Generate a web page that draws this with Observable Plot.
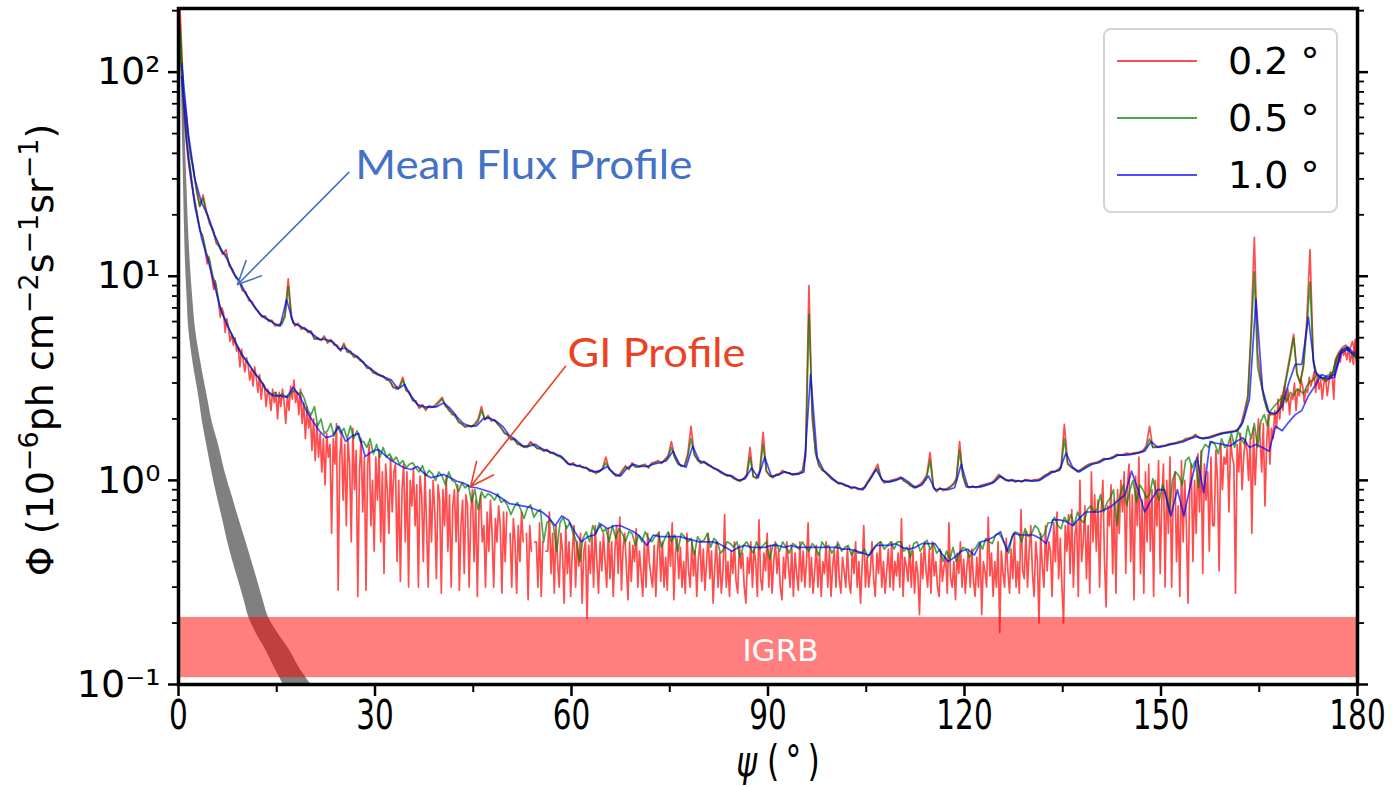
<!DOCTYPE html>
<html><head><meta charset="utf-8">
<script src="https://cdn.jsdelivr.net/npm/d3@7"></script>
<script src="https://cdn.jsdelivr.net/npm/@observablehq/plot@0.6"></script>
<style>
html,body{margin:0;padding:0;background:#fff;}
#wrap{position:relative;width:1400px;height:787px;}
#legend{position:absolute;left:1103px;top:28px;width:231px;height:181px;border:2px solid #d4d4d4;border-radius:8px;background:rgba(255,255,255,0.85);font-family:"DejaVu Sans";font-size:38px;color:#000;}
.sw{position:absolute;left:12px;width:80px;height:0;border-top:2.5px solid;}
.lab{position:absolute;left:123px;height:44px;line-height:44px;white-space:nowrap;}
</style>
</head><body>
<div id="wrap"><div id="legend"></div></div>
<script>
// ---------------- data ----------------
const resolutions = ["0.2", "0.5", "1.0"];
const resColors = ["#ff0000", "#008000", "#0000ff"];

// Mean flux profile, 1.0 deg bins
const meanBlue = [110,50,30,23,19.8,16,13.6,12,10.3,9.2,
8.0,7.2,6.5,6.2,5.9,5.7,7.7,5.9,5.7,5.5,
5.2,4.9,4.9,4.8,4.4,4.45,4.2,4.0,3.7,3.5,
3.3,3.2,3.1,2.8,2.95,2.6,2.35,2.3,2.28,2.3,
2.4,2.25,2.05,1.9,1.84,1.85,2.0,2.02,1.95,1.84,
1.66,1.58,1.48,1.47,1.5,1.43,1.39,1.35,1.31,1.2,
1.19,1.17,1.14,1.1,1.12,1.17,1.08,1.05,1.15,1.2,
1.17,1.17,1.2,1.22,1.25,1.39,1.2,1.16,1.47,1.25,
1.22,1.16,1.12,1.07,1.05,1.0,1.02,1.15,1.03,1.3,
1.05,1.06,1.1,1.08,1.07,1.1,3.3,1.3,1.12,1.05,
0.98,0.96,0.93,0.92,0.9,1.0,1.13,1.0,0.98,1.0,
1.03,0.98,0.92,0.95,1.05,0.9,0.91,0.9,0.92,1.2,
0.93,0.93,0.93,0.95,0.98,1.05,1.0,1.0,0.99,1.0,
0.99,1.0,1.05,1.1,1.12,1.36,1.16,1.1,1.15,1.2,
1.22,1.27,1.28,1.33,1.33,1.34,1.36,1.39,1.55,1.45,
1.47,1.5,1.52,1.55,1.6,1.64,1.6,1.62,1.66,1.7,
1.72,1.74,1.92,2.5,7.7,2.8,2.15,2.12,2.3,3.0,
3.7,3.7,6.3,3.4,3.2,3.15,3.2,4.2,4.4,4.1];

// GI profile, 1.0 deg bins
const giBlue = [95,38,22,15.5,12,9,6.8,5.7,4.9,4.2,
3.8,3.4,3.1,2.75,2.6,2.6,2.55,2.86,2.6,2.2,
1.95,1.75,1.62,1.65,1.84,1.55,1.65,1.7,1.31,1.38,
1.42,1.33,1.25,1.2,1.15,1.13,1.17,1.08,1.03,1.05,
1.07,1.03,0.99,0.97,0.93,0.92,0.9,0.88,0.85,0.81,
0.77,0.76,0.75,0.74,0.72,0.7,0.66,0.6,0.67,0.64,
0.56,0.5,0.53,0.54,0.61,0.58,0.6,0.6,0.58,0.56,
0.53,0.48,0.54,0.53,0.53,0.53,0.53,0.52,0.51,0.5,
0.5,0.5,0.49,0.47,0.45,0.47,0.48,0.47,0.47,0.47,
0.48,0.48,0.47,0.48,0.47,0.47,0.47,0.47,0.47,0.47,
0.47,0.46,0.46,0.45,0.44,0.43,0.48,0.48,0.48,0.49,
0.47,0.46,0.47,0.49,0.49,0.49,0.44,0.40,0.42,0.45,
0.46,0.43,0.5,0.51,0.53,0.56,0.45,0.55,0.54,0.54,
0.54,0.52,0.49,0.64,0.64,0.63,0.6,0.65,0.7,0.7,
0.7,0.72,0.75,0.8,0.85,1.11,0.9,0.7,0.8,0.9,
0.9,0.67,0.9,0.67,0.95,1.3,0.87,1.55,1.52,1.5,
1.47,1.55,1.62,1.45,1.5,1.45,1.39,1.84,1.75,1.93,
2.1,2.2,2.6,2.9,3.3,3.2,3.3,4.3,4.5,4.2];

// Mean flux profile, 0.5 deg bins
const meanGreen = [170,75,55,42,33,27,22,24,20.5,18.5,
16.5,15,13.8,13,12.8,11.5,10.5,10,9.4,8.7,
8.2,7.8,7.3,7.0,6.6,6.4,6.2,6.1,6.0,5.8,
5.7,5.8,6.3,8.9,6.2,5.8,5.8,5.6,5.5,5.4,
5.3,5.0,4.9,4.9,5.0,4.8,4.8,4.7,4.5,4.35,
4.6,4.3,4.2,4.1,4.0,3.9,3.75,3.6,3.5,3.4,
3.3,3.3,3.2,3.15,3.05,2.9,2.8,2.85,3.1,2.8,
2.65,2.5,2.4,2.3,2.3,2.25,2.3,2.3,2.3,2.4,
2.5,2.35,2.2,2.15,2.05,1.95,1.88,1.84,1.84,1.85,
1.86,1.95,2.2,2.0,2.05,1.98,1.96,1.9,1.8,1.72,
1.66,1.6,1.58,1.52,1.48,1.46,1.45,1.52,1.48,1.44,
1.42,1.4,1.4,1.37,1.35,1.33,1.3,1.28,1.22,1.2,
1.2,1.18,1.17,1.16,1.15,1.12,1.1,1.1,1.1,1.14,
1.22,1.14,1.09,1.06,1.05,1.1,1.16,1.14,1.2,1.17,
1.16,1.18,1.18,1.16,1.2,1.22,1.23,1.22,1.25,1.3,
1.45,1.3,1.2,1.18,1.17,1.3,1.6,1.35,1.25,1.22,
1.22,1.2,1.17,1.15,1.12,1.1,1.07,1.06,1.05,1.03,
1.0,1.0,1.01,1.05,1.3,1.05,1.02,1.1,1.5,1.12,
1.05,1.04,1.06,1.07,1.1,1.1,1.08,1.07,1.07,1.08,
1.1,1.3,6.5,2.2,1.35,1.2,1.12,1.1,1.05,1.02,
0.99,0.97,0.96,0.95,0.93,0.92,0.92,0.91,0.9,0.92,
0.98,1.03,1.1,1.15,1.02,0.98,0.98,0.99,1.0,1.01,
1.03,1.0,0.97,0.95,0.92,0.93,0.95,0.98,1.05,1.25,
0.92,0.89,0.91,0.9,0.9,0.92,0.95,1.0,1.4,1.05,
0.93,0.93,0.93,0.93,0.93,0.94,0.95,0.96,0.97,1.0,
1.05,1.03,1.0,1.0,1.0,0.99,0.99,0.99,1.0,1.0,
0.99,1.0,1.0,1.02,1.05,1.07,1.1,1.1,1.12,1.15,
1.6,1.2,1.16,1.14,1.1,1.12,1.15,1.18,1.2,1.21,
1.22,1.24,1.27,1.27,1.28,1.3,1.33,1.33,1.33,1.34,
1.34,1.35,1.36,1.37,1.39,1.45,1.6,1.45,1.45,1.46,
1.47,1.48,1.5,1.51,1.52,1.54,1.55,1.58,1.6,1.62,
1.66,1.62,1.6,1.61,1.62,1.64,1.66,1.68,1.7,1.71,
1.72,1.73,1.74,1.76,1.85,2.1,2.5,5.0,10.5,3.6,
3.0,2.5,2.2,2.12,2.12,2.15,2.3,2.7,3.3,4.0,
5.0,3.4,3.0,3.6,5.5,9.4,3.8,3.3,3.2,3.15,
3.1,3.15,3.3,3.9,4.2,4.3,4.4,4.3,4.1,4.0];

// GI profile, 0.5 deg bins
const giGreen = [150,70,45,35,26,21,17,15.5,13,12,
10,9,7.2,6.5,6.0,5.5,5.1,4.7,4.4,4.1,
3.9,3.7,3.5,3.3,3.2,3.0,2.8,2.7,2.6,2.7,
2.55,2.65,2.6,2.55,2.7,2.75,2.65,2.7,2.5,2.2,
2.1,2.3,1.85,2.0,1.7,1.75,1.9,1.65,1.85,1.7,
1.8,1.6,1.85,1.6,1.75,1.55,1.55,1.45,1.6,1.35,
1.5,1.3,1.45,1.3,1.35,1.25,1.3,1.2,1.25,1.15,
1.2,1.22,1.15,1.1,1.18,1.05,1.12,1.08,1.0,1.1,
1.05,0.95,1.1,1.0,0.98,0.88,0.97,0.92,0.95,0.78,
0.9,0.72,0.88,0.82,0.86,0.84,0.8,0.86,0.78,0.8,
0.75,0.68,0.74,0.78,0.72,0.65,0.73,0.76,0.66,0.7,
0.72,0.5,0.62,0.64,0.6,0.45,0.62,0.66,0.58,0.62,
0.55,0.5,0.4,0.52,0.56,0.5,0.6,0.55,0.62,0.56,
0.58,0.5,0.6,0.52,0.58,0.55,0.5,0.56,0.55,0.48,
0.54,0.5,0.56,0.52,0.5,0.53,0.55,0.47,0.52,0.56,
0.5,0.54,0.45,0.55,0.53,0.5,0.52,0.43,0.53,0.5,
0.51,0.55,0.47,0.52,0.5,0.44,0.46,0.5,0.49,0.47,
0.5,0.42,0.48,0.5,0.47,0.44,0.5,0.46,0.48,0.5,
0.41,0.48,0.49,0.45,0.5,0.47,0.44,0.49,0.48,0.46,
0.5,0.47,0.45,0.49,0.47,0.43,0.5,0.47,0.48,0.44,
0.47,0.49,0.45,0.47,0.48,0.43,0.46,0.44,0.44,0.46,
0.42,0.45,0.47,0.49,0.5,0.46,0.48,0.5,0.46,0.5,
0.5,0.45,0.47,0.42,0.49,0.5,0.45,0.48,0.51,0.46,
0.49,0.44,0.46,0.4,0.45,0.41,0.47,0.4,0.44,0.47,
0.46,0.42,0.45,0.47,0.5,0.46,0.52,0.5,0.49,0.54,
0.55,0.52,0.48,0.44,0.53,0.56,0.55,0.5,0.58,0.53,
0.55,0.6,0.58,0.52,0.55,0.62,0.62,0.66,0.6,0.58,
0.66,0.62,0.68,0.6,0.7,0.64,0.62,0.72,0.75,0.7,
0.72,0.85,0.7,0.78,0.82,0.9,0.6,0.85,0.95,0.75,
0.9,1.0,0.78,0.95,0.9,0.82,0.85,1.02,0.88,0.8,
0.95,0.85,0.7,1.0,1.1,1.05,0.95,1.25,1.3,1.15,
1.25,0.92,1.4,1.5,1.45,1.55,1.5,1.35,1.6,1.45,
1.5,1.7,1.45,1.75,1.6,1.5,1.85,1.6,1.9,1.45,
1.95,2.1,1.85,2.2,2.3,2.4,2.5,2.55,2.45,2.7,
2.6,2.8,2.75,2.65,2.9,3.05,3.1,3.3,3.2,3.15,
3.25,3.3,3.4,3.9,4.2,4.4,4.5,4.3,4.2,4.1];

// Mean flux profile, 0.2 deg resolution (read at 0.5 deg spacing)
const meanRed = [200,80,60,40,34,26,22,25,21,18,
17,14.5,14,12.8,13.5,11.2,10.8,9.8,9.6,8.5,
8.4,7.6,7.5,6.9,6.7,6.3,6.4,6.0,6.1,5.7,
5.8,5.9,6.5,9.7,6.4,5.7,5.9,5.5,5.6,5.3,
5.4,4.9,5.0,4.85,5.1,4.7,4.9,4.6,4.6,4.3,
4.7,4.25,4.3,4.0,4.05,3.85,3.8,3.55,3.55,3.35,
3.35,3.25,3.25,3.1,3.1,2.85,2.85,2.9,3.2,2.75,
2.7,2.45,2.45,2.25,2.35,2.2,2.32,2.28,2.35,2.45,
2.55,2.3,2.25,2.1,2.1,1.92,1.9,1.82,1.86,1.83,
1.9,2.0,2.3,1.98,2.08,1.95,1.98,1.88,1.82,1.7,
1.68,1.58,1.6,1.5,1.5,1.45,1.47,1.55,1.5,1.43,
1.44,1.39,1.42,1.36,1.37,1.32,1.32,1.27,1.24,1.19,
1.22,1.17,1.19,1.15,1.16,1.11,1.12,1.08,1.11,1.15,
1.3,1.13,1.1,1.05,1.06,1.12,1.18,1.13,1.22,1.16,
1.17,1.19,1.2,1.15,1.22,1.23,1.25,1.21,1.27,1.32,
1.55,1.3,1.22,1.17,1.18,1.35,1.84,1.33,1.27,1.21,
1.24,1.19,1.18,1.14,1.13,1.09,1.08,1.05,1.06,1.02,
1.01,0.99,1.02,1.07,1.45,1.04,1.03,1.12,1.72,1.1,
1.06,1.03,1.07,1.08,1.12,1.09,1.09,1.06,1.08,1.09,
1.12,1.4,9.0,2.0,1.4,1.18,1.13,1.09,1.06,1.01,
1.0,0.96,0.97,0.94,0.94,0.91,0.93,0.9,0.91,0.93,
0.99,1.05,1.12,1.2,1.03,0.97,0.99,1.0,1.01,1.02,
1.04,0.99,0.98,0.94,0.93,0.94,0.96,1.0,1.07,1.37,
0.93,0.88,0.92,0.89,0.91,0.93,0.96,1.02,1.55,1.05,
0.94,0.92,0.94,0.92,0.94,0.95,0.96,0.97,0.98,1.02,
1.07,1.03,1.01,0.99,1.01,0.98,1.0,0.98,1.01,1.0,
1.0,1.01,1.01,1.03,1.06,1.08,1.11,1.1,1.13,1.17,
1.88,1.22,1.17,1.13,1.11,1.13,1.16,1.19,1.21,1.22,
1.23,1.25,1.28,1.27,1.29,1.31,1.34,1.33,1.34,1.36,
1.35,1.36,1.37,1.38,1.4,1.48,1.84,1.45,1.46,1.47,
1.48,1.49,1.51,1.52,1.53,1.55,1.56,1.6,1.61,1.63,
1.68,1.62,1.61,1.62,1.63,1.65,1.67,1.69,1.71,1.72,
1.73,1.74,1.75,1.78,1.9,2.2,2.6,5.5,15.5,4.2,
3.1,2.5,2.2,2.1,2.1,2.15,2.3,2.8,3.4,4.2,
5.2,3.3,3.0,3.7,6.0,13.5,3.9,3.3,3.2,3.1,
3.05,3.2,3.4,4.0,4.3,4.5,4.6,4.3,4.8,4.0];

// GI profile, 0.2 deg resolution (read at 0.25 deg spacing); null = no positive value
const giRed = [180,120,85,60, 48,40,34,30, 27,24,22,20, 18,16.5,16,14.5,
13,11.5,12.4,11, 9.8,8.6,9.5,8.2, 7.4,6.3,7.0,6.6, 5.3,6.2,5.6,4.8,
5.2,4.6,5.0,4.3, 4.5,3.6,4.4,3.9, 3.4,4.0,3.7,3.1, 3.5,2.9,3.6,3.2,
2.7,3.3,2.5,3.0, 2.9,2.3,2.8,2.6, 2.2,2.8,2.4,2.7, 2.0,2.7,2.3,2.8,
2.4,1.9,2.6,2.2, 2.9,2.5,3.1,2.4, 2.7,2.1,2.8,1.9, 2.4,1.6,2.3,1.8,
2.1,1.4,2.0,1.25, 1.9,1.3,1.7,1.1, 1.6,0.95,1.7,1.3, 1.5,0.55,1.6,1.2,
1.9,0.29,1.3,1.7, 0.8,1.5,0.6,1.6, 1.2,0.5,1.8,0.9, 1.4,0.27,1.1,1.6,
0.7,1.3,0.29,1.2, 1.5,0.6,1.0,0.45, 1.3,0.8,1.4,0.5, 1.1,0.35,1.2,0.9,
0.55,1.3,0.7,1.1, 1.2,0.4,1.0,0.32, 0.9,1.2,0.5,1.1, 0.3,1.0,0.75,1.15,
0.6,0.95,0.3,1.05, 0.85,0.4,1.1,0.6, 0.3,0.9,0.5,1.0, 0.7,0.33,0.95,0.8,
0.28,0.9,0.6,1.05, 0.45,0.85,0.3,0.75, 0.9,0.5,0.95,0.29, 0.6,0.8,0.35,0.85,
0.75,0.3,0.7,0.9, 0.4,0.8,0.27,0.7, 0.85,0.5,0.6,0.3, 0.7,0.45,0.8,0.55,
0.3,0.65,0.5,0.75, 0.6,0.28,0.7,0.4, 0.7,null,0.55,0.3, 0.65,0.5,0.28,0.6,
0.4,0.7,0.5,null, 0.55,0.26,0.6,0.45, null,0.5,0.5,0.3, 0.62,0.27,0.5,null,
0.45,0.45,0.7,0.35, 0.55,0.28,0.6,0.4, 0.3,0.55,0.45,0.25, 0.6,0.35,0.5,0.27,
0.45,0.6,0.3,0.5, 0.38,0.55,0.25,0.45, 0.5,0.21,0.48,0.35, 0.55,0.3,0.6,0.4,
0.28,0.5,0.36,0.55, 0.4,0.3,0.58,0.33, 0.5,0.27,0.45,0.6, 0.35,0.66,0.29,0.47,
0.55,0.38,0.26,0.5, 0.32,0.48,0.4,0.58, 0.3,0.45,0.35,0.27, 0.5,0.3,0.55,0.4,
0.34,0.3,0.48,0.27, 0.45,0.56,0.32,0.5, 0.3,0.42,0.29,0.55, 0.38,0.62,0.26,0.44,
0.52,0.33,0.47,0.3, 0.4,0.28,0.55,0.36, 0.3,0.5,0.34,0.45, 0.27,0.42,0.5,0.32,
0.46,0.29,0.4,0.55, 0.33,0.45,0.25,0.38, 0.5,0.3,0.44,0.28, 0.36,0.68,0.3,0.4,
0.27,0.45,0.35,0.5, 0.32,0.28,0.48,0.37, 0.44,0.3,0.25,0.42, 0.35,0.5,0.3,0.46,
0.4,0.27,0.64,0.33, 0.29,0.44,0.36,0.55, 0.3,0.48,0.28,0.4, 0.5,0.35,0.45,0.3,
0.26,0.42,0.33,0.5, 0.38,0.3,0.47,0.27, 0.44,0.35,0.29,0.5, 0.32,0.45,0.3,0.4,
0.62,0.3,0.42,0.28, 0.36,0.48,0.3,0.44, 0.27,0.4,0.35,0.5, 0.3,0.46,0.27,0.38,
0.45,0.3,0.5,0.33, 0.28,0.42,0.36,0.3, 0.47,0.32,0.28,0.45, 0.35,0.5,0.3,0.4,
0.25,0.38,0.6,0.3, 0.42,0.3,0.36,0.5, 0.33,0.27,0.44,0.35, 0.5,0.3,0.4,0.28,
0.36,0.46,0.3,0.5, 0.29,0.4,0.34,0.44, 0.3,0.65,0.27,0.42, 0.38,0.32,0.48,0.3,
0.45,0.28,0.4,0.35, 0.22,0.44,0.33,0.5, 0.36,0.3,0.46,0.28, 0.5,0.34,0.4,0.3,
0.27,0.45,0.32,0.38, 0.42,0.28,0.62,0.33, 0.3,0.4,0.26,0.44, 0.35,0.5,0.3,0.41,
0.28,0.38,0.45,0.3, 0.46,0.32,0.27,0.42, 0.3,0.48,0.22,0.4, 0.36,0.3,0.66,0.34,
0.44,0.27,0.4,0.3, 0.5,0.18,0.45,0.35, 0.3,0.52,0.36,0.28, 0.46,0.33,0.55,0.3,
0.4,0.28,0.72,0.36, 0.33,0.56,0.3,0.45, 0.6,0.35,0.27,0.5, 0.4,0.2,0.55,0.38,
0.3,0.6,0.36,0.5, 0.45,0.27,0.62,0.4, 0.7,0.33,0.52,0.3, 0.2,0.6,0.45,0.68,
0.35,0.72,0.3,0.55, 0.62,0.27,1.0,0.4, 0.5,0.75,0.33,0.6, 0.28,1.1,0.5,0.85,
0.45,0.8,0.3,0.72, 1.0,0.4,0.24,0.75, 0.6,0.95,0.35,0.8, 0.28,0.9,0.55,1.0,
0.7,1.1,0.35,0.95, 1.2,0.4,0.85,0.26, 1.05,0.6,1.3,0.35, 0.8,0.28,1.1,0.5,
1.2,0.45,0.9,0.27, 1.0,0.6,1.25,0.35, 0.8,1.2,0.3,1.0, 0.55,1.3,0.3,0.9,
1.1,0.4,0.75,0.27, 1.25,0.5,1.0,0.6, 0.25,0.9,1.2,0.4, 1.0,0.55,1.35,0.7,
1.4,0.35,1.2,0.8, 1.1,0.45,1.3,0.6, 0.6,1.4,1.0,0.36, 1.5,0.9,1.3,1.2,
1.45,0.7,1.6,1.3, 1.2,0.28,1.5,1.1, 1.7,0.9,1.3,1.6, 1.4,1.0,1.6,0.55,
1.8,0.95,1.5,2.0, 1.6,1.1,1.9,0.75, 1.5,2.1,1.2,1.8, 1.6,2.2,1.8,2.5,
2.0,2.6,2.2,2.9, 2.4,2.8,2.1,2.6, 2.5,3.0,2.2,2.8, 2.6,3.1,2.9,2.4,
2.8,2.7,3.2,2.9, 3.1,3.4,2.7,3.3, 2.8,3.1,2.5,3.0, 3.2,2.6,3.0,3.4,
3.3,2.5,3.9,3.6, 4.2,3.8,4.4,4.1, 4.3,3.9,4.5,3.8, 4.2,3.7,4.9,3.6];

// point-source (PSF) band: flux levels and the psi range it covers at each level
const psfFlux = [230,150,84,50,30,18,11.6,8,5.5,3.8,2.57,1.9,1.5,1.1,0.835,0.65,0.5,0.4,0.32,0.26,0.215,0.18,0.15,0.12,0.1,0.085];
const psfLo   = [0.05,0.2,0.45,0.6,0.75,0.9,1.07,1.3,1.57,2.2,3.1,3.7,4.3,5.1,5.9,6.7,7.5,8.3,9.2,10.0,10.7,11.8,13.2,14.7,16.0,17.3];
const psfHi   = [0.2,0.45,0.8,1.0,1.25,1.5,1.8,2.15,2.6,3.4,4.4,5.2,6.1,7.1,8.2,9.2,10.3,11.2,12.1,12.9,13.7,15.1,16.8,18.5,20.2,21.8];

// IGRB level (band)
const igrbLow = 0.108, igrbHigh = 0.213;

// axis ticks
const xMajor = [0, 30, 60, 90, 120, 150, 180];
const xMinor = [15, 45, 75, 105, 135, 165];
const yMajor = [0.1, 1, 10, 100];
const yMinor = [0.2,0.3,0.4,0.5,0.6,0.7,0.8,0.9,2,3,4,5,6,7,8,9,20,30,40,50,60,70,80,90,200];
const yLabels = {"0.1": "10\u207B\u00B9", "1": "10\u2070", "10": "10\u00B9", "100": "10\u00B2"};

// annotations
const annoMean = {text: "Mean Flux Profile", x: 27.0, y: 34.5, fromX: 26.0, fromY: 32.3, toX: 9.0, toY: 9.1};
const annoGI = {text: "GI Profile", x: 59.4, y: 4.14, fromX: 59.1, fromY: 3.62, toX: 44.6, toY: 0.934};
const annoIGRB = {text: "IGRB", x: 91.9, y: 0.145};

// ---------------- build ----------------
function rows(vals, step) {
  return vals.map((v, i) => ({psi: (i + 0.5) * step, phi: v == null ? NaN : v}));
}
const psf = psfFlux.map((f, i) => ({phi: f, lo: psfLo[i], hi: psfHi[i]}));
const lw = 1.7, op = 0.7;

const chart = Plot.plot({
  width: 1400, height: 787,
  marginLeft: 178, marginRight: 43, marginTop: 8, marginBottom: 103,
  style: {background: "white", color: "black"},
  x: {domain: [0, 180]},
  y: {type: "log", domain: [0.1, 205]},
  marks: [
    Plot.areaX(psf, {y: "phi", x1: "lo", x2: "hi", fill: "#808080", curve: "catmull-rom", clip: true}),
    Plot.rect([{lo: igrbLow, hi: igrbHigh}], {x1: 0, x2: 180, y1: "lo", y2: "hi", fill: "#ff0000", fillOpacity: 0.5, clip: true}),
    Plot.text([annoIGRB], {x: "x", y: "y", text: "text", fill: "white", fontSize: 31, fontFamily: "DejaVu Sans"}),
    Plot.line(rows(giRed, 0.25), {x: "psi", y: "phi", stroke: resColors[0], strokeOpacity: op, strokeWidth: lw, clip: true}),
    Plot.line(rows(meanRed, 0.5), {x: "psi", y: "phi", stroke: resColors[0], strokeOpacity: op, strokeWidth: lw, clip: true}),
    Plot.line(rows(giGreen, 0.5), {x: "psi", y: "phi", stroke: resColors[1], strokeOpacity: op, strokeWidth: lw, clip: true}),
    Plot.line(rows(meanGreen, 0.5), {x: "psi", y: "phi", stroke: resColors[1], strokeOpacity: op, strokeWidth: lw, clip: true}),
    Plot.line(rows(giBlue, 1.0), {x: "psi", y: "phi", stroke: resColors[2], strokeOpacity: op, strokeWidth: lw, clip: true}),
    Plot.line(rows(meanBlue, 1.0), {x: "psi", y: "phi", stroke: resColors[2], strokeOpacity: op, strokeWidth: lw, clip: true}),
    Plot.arrow([annoMean], {x1: "fromX", y1: "fromY", x2: "toX", y2: "toY", stroke: "#4472C4", strokeWidth: 1.6, headLength: 24, headAngle: 50}),
    Plot.arrow([annoGI], {x1: "fromX", y1: "fromY", x2: "toX", y2: "toY", stroke: "#ec4223", strokeWidth: 1.6, headLength: 24, headAngle: 50}),
    Plot.text([annoMean], {x: "x", y: "y", text: "text", fill: "#4472C4", fontSize: 40, fontFamily: "Lato", textAnchor: "start"}),
    Plot.text([annoGI], {x: "x", y: "y", text: "text", fill: "#ec4223", fontSize: 40, fontFamily: "Lato", textAnchor: "start"}),
    Plot.axisX({ticks: xMajor, tickSize: 12, strokeWidth: 2.5, tickPadding: 3, fontSize: 41, fontFamily: "DejaVu Sans", label: null}),
    Plot.axisX({ticks: xMinor, tickSize: 8, strokeWidth: 2, tickFormat: () => "", label: null}),
    Plot.axisY({ticks: yMajor, tickSize: 10, strokeWidth: 2.5, tickPadding: 8, fontSize: 38, fontFamily: "DejaVu Sans", tickFormat: d => yLabels[String(d)], label: null}),
    Plot.axisY({ticks: yMinor, tickSize: 6, strokeWidth: 1.8, tickFormat: () => "", label: null}),
    Plot.axisY({anchor: "right", ticks: yMajor, tickSize: 10, strokeWidth: 2.5, tickFormat: () => "", label: null}),
    Plot.axisY({anchor: "right", ticks: yMinor, tickSize: 6, strokeWidth: 1.8, tickFormat: () => "", label: null}),
    Plot.frame({stroke: "black", strokeWidth: 3.5})
  ]
});
document.getElementById("wrap").insertBefore(chart, document.getElementById("legend"));

const svg = d3.select(chart);
svg.selectAll('g[aria-label="x-axis tick label"] text').each(function () {
  const t = this.getAttribute("transform") || "";
  this.setAttribute("transform", t + " scale(0.72,1)");
});
svg.selectAll("text").each(function () {
  if (this.textContent === "Mean Flux Profile") { this.setAttribute("textLength", 337); this.setAttribute("lengthAdjust", "spacingAndGlyphs"); }
  if (this.textContent === "GI Profile") { this.setAttribute("textLength", 178); this.setAttribute("lengthAdjust", "spacingAndGlyphs"); }
});

// y axis label with superscripts
const yParts = [["\u03A6 (10", 0], ["\u22126", 1], ["ph cm", 0], ["\u22122", 1], ["s", 0], ["\u22121", 1], ["sr", 0], ["\u22121", 1], [")", 0]];
const yl = svg.append("text")
  .attr("transform", "translate(53,350) rotate(-90)")
  .attr("text-anchor", "middle").attr("font-family", "DejaVu Sans").attr("font-size", 38).attr("fill", "black");
let up = false;
for (const [s, sup] of yParts) {
  const ts = yl.append("tspan").text(s);
  if (sup) { ts.attr("font-size", 27).attr("dy", -15); up = true; }
  else if (up) { ts.attr("dy", 15); up = false; }
}
// x axis label
const xl = svg.append("text")
  .attr("transform", "translate(778,776) scale(0.75,1)")
  .attr("text-anchor", "middle").attr("font-family", "DejaVu Sans").attr("font-size", 42).attr("fill", "black");
xl.append("tspan").attr("font-style", "italic").text("\u03C8");
xl.append("tspan").text(" (\u2009\u00B0\u2009)");

// legend
const leg = d3.select("#legend");
const rowCenters = [31, 88, 145];
resolutions.forEach((r, i) => {
  leg.append("div").attr("class", "sw").style("top", (rowCenters[i] - 1) + "px")
    .style("border-top-color", resColors[i]).style("opacity", op);
  leg.append("div").attr("class", "lab").style("top", (rowCenters[i] - 22) + "px").text(r + " \u00B0");
});
</script>
</body></html>
